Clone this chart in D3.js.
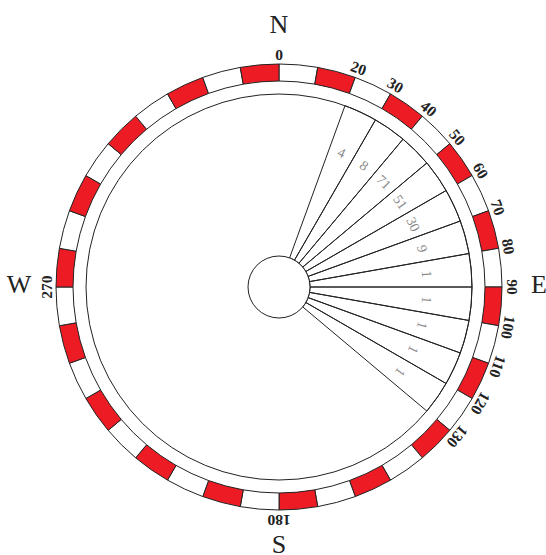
<!DOCTYPE html>
<html>
<head>
<meta charset="utf-8">
<script src="https://cdn.jsdelivr.net/npm/d3@7"></script>
<style>
  body { margin: 0; background: #fff; }
</style>
</head>
<body>
<div id="chart"></div>
<script>
// sectors of the rose (start angle, degrees) and the count written in each
const sectorStarts = [20, 30, 40, 50, 60, 70, 80, 90, 100, 110, 120];
const sectorCounts = ["4", "8", "71", "51", "30", "9", "1", "1", "1", "1", "1"];
// degree labels around the outer ring
const ringTicks = [0, 20, 30, 40, 50, 60, 70, 80, 90, 100, 110, 120, 130, 180, 270];
const compassLetters = ["N", "E", "S", "W"];
const compassAngles = [0, 90, 180, 270];

const width = 546;
const height = 555;
const cx = 279;
const cy = 287;
const rHub = 31;
const rData = 193;
const rRingIn = 206;
const rRingOut = 223;
const rTick = 233;
const rCount = 148;
const rCompass = 260;
const ink = "#222";
const red = "#ed1c24";

const angle = d3.scaleLinear().domain([0, 360]).range([0, 2 * Math.PI]);

const svg = d3
  .select("#chart")
  .append("svg")
  .attr("width", width)
  .attr("height", height)
  .attr("viewBox", [0, 0, width, height]);

const g = svg.append("g").attr("transform", `translate(${cx},${cy})`);

// outer ring: 10 degree cells, red on every other one
const ringArc = d3.arc().innerRadius(rRingIn).outerRadius(rRingOut);
g.append("g")
  .selectAll("path")
  .data(d3.range(0, 360, 10))
  .join("path")
  .attr("d", (d) => ringArc({ startAngle: angle(d), endAngle: angle(d + 10) }))
  .attr("fill", (d) => ((d / 10) % 2 === 1 ? red : "#fff"))
  .attr("stroke", ink)
  .attr("stroke-width", 1);

// data circle
g.append("circle")
  .attr("r", rData)
  .attr("fill", "none")
  .attr("stroke", ink)
  .attr("stroke-width", 1);

// sectors
const sectorArc = d3.arc().innerRadius(rHub).outerRadius(rData);
g.append("g")
  .selectAll("path")
  .data(sectorStarts)
  .join("path")
  .attr("d", (d) => sectorArc({ startAngle: angle(d), endAngle: angle(d + 10) }))
  .attr("fill", "none")
  .attr("stroke", ink)
  .attr("stroke-width", 1);

// hub
g.append("circle")
  .attr("r", rHub)
  .attr("fill", "#fff")
  .attr("stroke", ink)
  .attr("stroke-width", 1);

// counts
g.append("g")
  .selectAll("text")
  .data(sectorStarts)
  .join("text")
  .attr("transform", (d) => `rotate(${d + 5}) translate(0,${-rCount})`)
  .attr("text-anchor", "middle")
  .attr("dominant-baseline", "central")
  .attr("font-family", "Liberation Serif")
  .attr("font-size", 14)
  .attr("fill", "#8a8a8a")
  .text((d, i) => sectorCounts[i]);

// degree labels
g.append("g")
  .selectAll("text")
  .data(ringTicks)
  .join("text")
  .attr("transform", (d) => `rotate(${d}) translate(0,${-rTick})`)
  .attr("text-anchor", "middle")
  .attr("dominant-baseline", "central")
  .attr("font-family", "Liberation Serif")
  .attr("font-weight", "bold")
  .attr("font-size", 15.5)
  .attr("fill", ink)
  .text((d) => d);

// compass letters
g.append("g")
  .attr("transform", "translate(0,-3)")
  .selectAll("text")
  .data(compassAngles)
  .join("text")
  .attr("x", (d) => rCompass * Math.sin(angle(d)))
  .attr("y", (d) => -rCompass * Math.cos(angle(d)))
  .attr("text-anchor", "middle")
  .attr("dominant-baseline", "central")
  .attr("font-family", "Liberation Serif")
  .attr("font-size", 26)
  .attr("fill", ink)
  .text((d, i) => compassLetters[i]);
</script>
</body>
</html>
